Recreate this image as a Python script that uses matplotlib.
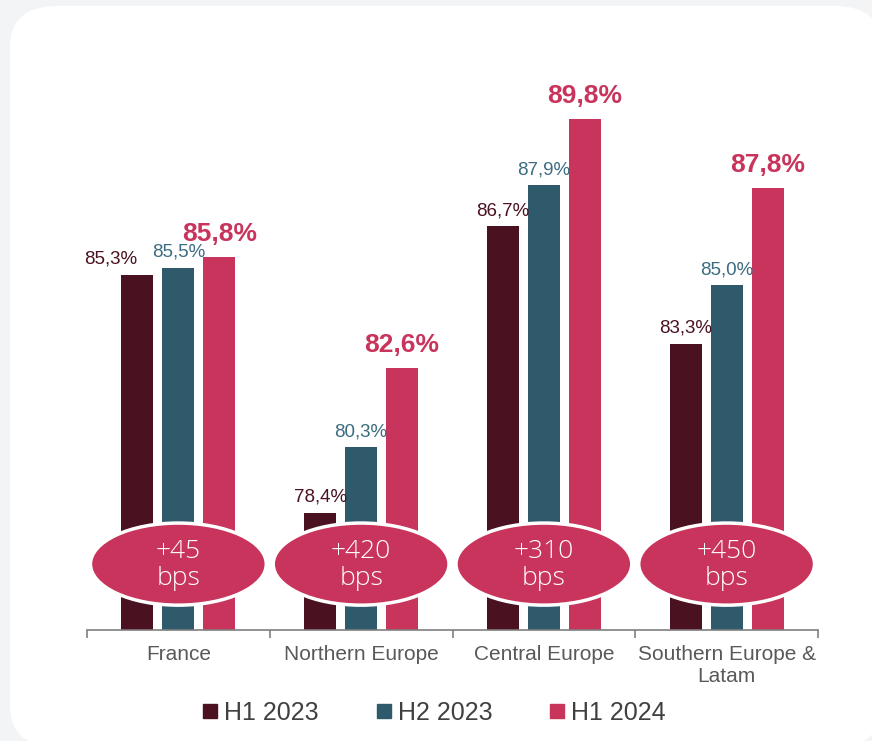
import matplotlib.pyplot as plt
import numpy as np
from matplotlib.lines import Line2D
from matplotlib.patches import Ellipse, FancyBboxPatch

# --- Data ---------------------------------------------------------------------
regions = ["France", "Northern Europe", "Central Europe", "Southern Europe &\nLatam"]
series = ["H1 2023", "H2 2023", "H1 2024"]
h1_2023 = [85.3, 78.4, 86.7, 83.3]
h2_2023 = [85.5, 80.3, 87.9, 85.0]
h1_2024 = [85.8, 82.6, 89.8, 87.8]
bps_gain = ["+45", "+420", "+310", "+450"]

# --- Style --------------------------------------------------------------------
BAR_COLORS = ["#4a1220", "#2e5a6b", "#c8345b"]
LABEL_COLORS = ["#4a1220", "#3b6c80", "#c8345b"]
PAGE_BG = "#f2f4f5"
AXIS_GRAY = "#7f7f7f"
TEXT_GRAY = "#595959"
BAR_WIDTH = 0.175
BAR_STEP = 0.224
Y_MIN, Y_MAX = 75, 92

plt.rcParams["font.family"] = ["Liberation Sans", "DejaVu Sans"]

fig = plt.figure(figsize=(8.72, 7.41), dpi=100, facecolor=PAGE_BG)

# white rounded card behind the chart
card = FancyBboxPatch((10 / 872, -0.008), 1.0, 1.0,
                      boxstyle="round,pad=0,rounding_size=0.055",
                      transform=fig.transFigure, facecolor="white",
                      edgecolor="none", zorder=-10)
fig.patches.append(card)

ax = fig.add_axes([87 / 872, 111 / 741, (818 - 87) / 872, 0.7915])
ax.set_facecolor("none")

x = np.arange(len(regions))
values = [h1_2023, h2_2023, h1_2024]

for k, (vals, color, lcolor) in enumerate(zip(values, BAR_COLORS, LABEL_COLORS)):
    pos = x + (k - 1) * BAR_STEP
    ax.bar(pos, vals, width=BAR_WIDTH, color=color, zorder=2)
    last = k == len(values) - 1
    for i, (px, v) in enumerate(zip(pos, vals)):
        # the France H1 2023 label sits a bit to the left so it clears its neighbour
        dx = -19 if (i == 0 and k == 0) else 0
        ax.annotate(f"{v:.1f}%".replace(".", ","), (px, v),
                    xytext=(dx, 8 if last else 5), textcoords="offset points",
                    ha="center", va="bottom", color=lcolor,
                    fontsize=19 if last else 13.5,
                    fontweight="bold" if last else "normal")

# basis-point badges
for i, gain in enumerate(bps_gain):
    ax.add_patch(Ellipse((x[i], 76.91), 0.962, 2.38, facecolor="#c8345b",
                         edgecolor="white", linewidth=2.5, zorder=4))
    ax.text(x[i], 76.88, f"{gain}\nbps", ha="center", va="center",
            color="white", fontsize=19, linespacing=1.1, fontweight="light",
            family=["Open Sans", "DejaVu Sans"], zorder=5)

ax.set_xlim(-0.5, len(regions) - 0.5)
ax.set_ylim(Y_MIN, Y_MAX)

for side in ["top", "right", "left"]:
    ax.spines[side].set_visible(False)
ax.spines["bottom"].set_color(AXIS_GRAY)
ax.spines["bottom"].set_linewidth(1.2)
ax.set_yticks([])

ax.set_xticks(x)
ax.set_xticklabels(regions, fontsize=15, color=TEXT_GRAY, linespacing=1.15)
ax.tick_params(axis="x", which="major", length=0, pad=11)
ax.set_xticks(np.arange(len(regions) + 1) - 0.5, minor=True)
ax.tick_params(axis="x", which="minor", length=6, width=1.2, color=AXIS_GRAY,
               direction="out")

handles = [Line2D([], [], marker="s", linestyle="none", markersize=10,
                  markerfacecolor=c, markeredgecolor=c) for c in BAR_COLORS]
fig.legend(handles, series, loc="center", bbox_to_anchor=(433 / 872, 1 - 713 / 741),
           ncol=3, frameon=False, fontsize=18, labelcolor="#404040",
           handletextpad=0.15, columnspacing=2.2, handlelength=0.8)

fig.savefig("out.png", dpi=100, facecolor=PAGE_BG)
